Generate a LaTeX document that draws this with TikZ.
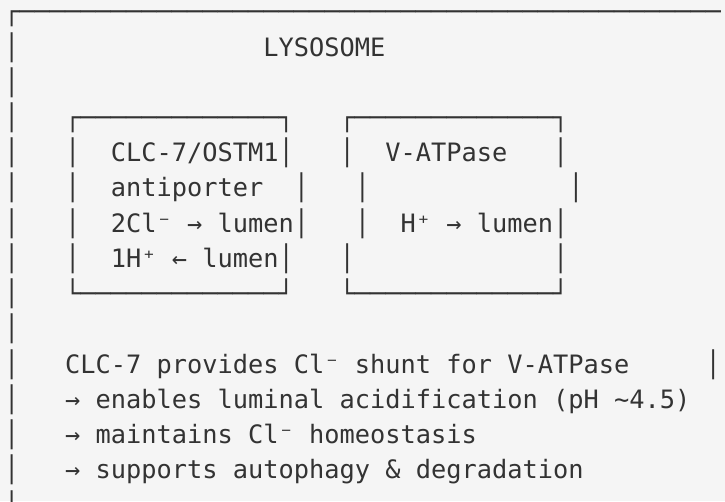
\documentclass[tikz,border=0pt]{standalone}
\usepackage{fontspec}
\newfontfamily\asciifont{DejaVu Sans Mono}
\definecolor{bg}{HTML}{F5F5F5}
\definecolor{ink}{HTML}{333333}
\begin{document}
\begin{tikzpicture}[x=1pt,y=-1pt,
  row/.style={anchor=base west, inner sep=0pt, outer sep=0pt, text=ink,
    font=\asciifont\fontsize{25.33}{35.23}\selectfont\frenchspacing}]
\useasboundingbox (0,0) rectangle (725,501);
\fill[bg] (0,0) rectangle (725,501);
\clip (0,0) rectangle (725,501);
\def\xo{4.08}
\def\yo{20.8}
\def\dy{35.23}
\node[row] (r0) at (\xo,\yo+0*\dy) {┌──────────────────────────────────────────────};
\node[row] (r1) at (\xo,\yo+1*\dy) {│~~~~~~~~~~~~~~~~LYSOSOME};
\node[row] (r2) at (\xo,\yo+2*\dy) {│};
\node[row] (r3) at (\xo,\yo+3*\dy) {│~~~┌─────────────┐~~~┌─────────────┐};
\node[row] (r4) at (\xo,\yo+4*\dy) {│~~~│~~CLC-7/OSTM1│~~~│~~V-ATPase~~~│};
\node[row] (r5) at (\xo,\yo+5*\dy) {│~~~│~~antiporter~~│~~~│~~~~~~~~~~~~~│};
\node[row] (r6) at (\xo,\yo+6*\dy) {│~~~│~~2Cl⁻~→~lumen│~~~│~~H⁺~→~lumen│};
\node[row] (r7) at (\xo,\yo+7*\dy) {│~~~│~~1H⁺~←~lumen│~~~│~~~~~~~~~~~~~│};
\node[row] (r8) at (\xo,\yo+8*\dy) {│~~~└─────────────┘~~~└─────────────┘};
\node[row] (r9) at (\xo,\yo+9*\dy) {│};
\node[row] (r10) at (\xo,\yo+10*\dy) {│~~~CLC-7~provides~Cl⁻~shunt~for~V-ATPase~~~~~│};
\node[row] (r11) at (\xo,\yo+11*\dy) {│~~~→~enables~luminal~acidification~(pH~\textasciitilde4.5)};
\node[row] (r12) at (\xo,\yo+12*\dy) {│~~~→~maintains~Cl⁻~homeostasis};
\node[row] (r13) at (\xo,\yo+13*\dy) {│~~~→~supports~autophagy~\&~degradation};
\node[row] (r14) at (\xo,\yo+14*\dy) {│};
\end{tikzpicture}
\end{document}
